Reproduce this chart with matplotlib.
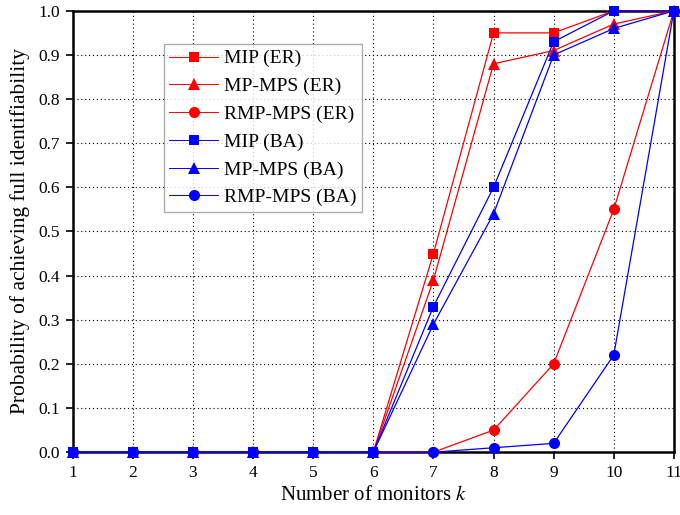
import numpy as np
import matplotlib
matplotlib.use("Agg")
import matplotlib.pyplot as plt

plt.rcParams['font.family'] = ['Liberation Serif', 'TeX Gyre Termes', 'STIXGeneral', 'DejaVu Serif']
plt.rcParams['mathtext.fontset'] = 'stix'

# ===== 数据 =====
k = [1, 2, 3, 4, 5, 6, 7, 8, 9, 10, 11]
mip_er = [0, 0, 0, 0, 0, 0, 0.45, 0.95, 0.95, 1.00, 1.00]
mpmps_er = [0, 0, 0, 0, 0, 0, 0.39, 0.88, 0.91, 0.97, 1.00]
rmpmps_er = [0, 0, 0, 0, 0, 0, 0.00, 0.05, 0.20, 0.55, 1.00]
mip_ba = [0, 0, 0, 0, 0, 0, 0.33, 0.60, 0.93, 1.00, 1.00]
mpmps_ba = [0, 0, 0, 0, 0, 0, 0.29, 0.54, 0.90, 0.96, 1.00]
rmpmps_ba = [0, 0, 0, 0, 0, 0, 0.00, 0.01, 0.02, 0.22, 1.00]
yticks = [0.0, 0.1, 0.2, 0.3, 0.4, 0.5, 0.6, 0.7, 0.8, 0.9, 1.0]

fig = plt.figure(figsize=(6.8, 5.15), dpi=100)
ax = fig.add_axes([0.107, 0.122, 0.884, 0.857])

series = [
    (mip_er, 'red', 's', 7, 'MIP (ER)'),
    (mpmps_er, 'red', '^', 9, 'MP-MPS (ER)'),
    (rmpmps_er, 'red', 'o', 8, 'RMP-MPS (ER)'),
    (mip_ba, 'blue', 's', 7, 'MIP (BA)'),
    (mpmps_ba, 'blue', '^', 9, 'MP-MPS (BA)'),
    (rmpmps_ba, 'blue', 'o', 8, 'RMP-MPS (BA)'),
]
for ys, c, m, ms, lab in series:
    ax.plot(k, ys, color=c, marker=m, markersize=ms, linewidth=0.9,
            markeredgewidth=0, label=lab, clip_on=False, zorder=3)

ax.set_xlim(1, 11)
ax.set_ylim(0, 1.0)
ax.set_xticks(k)
ax.set_yticks(yticks)
ax.set_yticklabels([f"{v:.1f}" for v in yticks])
ax.tick_params(labelsize=12.5, direction='out', length=5, width=1.2, pad=4)
ax.grid(True, linestyle=(0, (1, 2.5)), color='black', linewidth=0.8)

for s in ax.spines.values():
    s.set_linewidth(1.8)

ax.set_xlabel("Number of monitors $k$", fontsize=15, labelpad=4)
ax.set_ylabel("Probability of achieving full identifiability", fontsize=15.5, labelpad=6)

leg = ax.legend(loc='upper left', bbox_to_anchor=(0.151, 0.925), fontsize=14,
                frameon=True, fancybox=False, edgecolor='#999999',
                handlelength=2.5, labelspacing=0.52, borderpad=0.3,
                handletextpad=0.3, borderaxespad=0)
leg.get_frame().set_linewidth(1.0)
for line in leg.get_lines():
    line.set_linewidth(0.7)

fig.savefig("out.png", dpi=100)
